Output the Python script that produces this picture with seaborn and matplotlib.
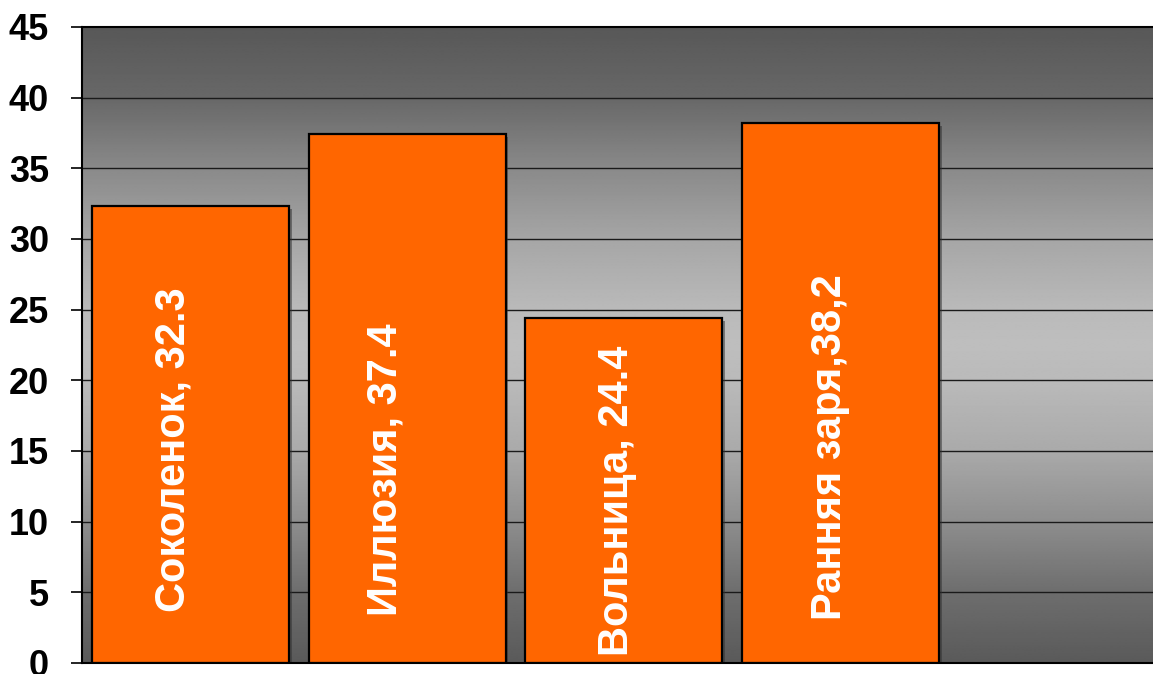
import numpy as np
import matplotlib
matplotlib.use("Agg")
import matplotlib.pyplot as plt
import matplotlib.patheffects as pe
import seaborn as sns

# Yield by variety
varieties = ["Соколенок", "Иллюзия", "Вольница", "Ранняя заря"]
yields = [32.3, 37.4, 24.4, 38.2]
bar_labels = ["Соколенок, 32.3", "Иллюзия, 37.4", "Вольница, 24.4", "Ранняя заря,38,2"]
y_ticks = [0, 5, 10, 15, 20, 25, 30, 35, 40, 45]

# Placement of the rotated labels inside the bars (x shift, y centre)
label_dx = [-0.08, -0.10, -0.03, -0.05]
label_y = [15.1, 13.7, 11.5, 15.3]

# Vertical grey gradient of the plot area: (value, grey level 0-255)
grad_pos = [0, 5, 10, 15, 20, 22.5, 25, 30, 35, 40, 45]
grad_lvl = [90, 110, 142, 170, 186, 190, 186, 166, 138, 104, 88]

sns.set_theme(style="white")
plt.rcParams["font.family"] = ["Liberation Sans", "DejaVu Sans"]

fig = plt.figure(figsize=(11.53, 6.74), dpi=100)
ax = fig.add_axes([82.2 / 1153, 11 / 674, 1083.4 / 1153, 636 / 674])

# background gradient
yy = np.linspace(0, 45, 400)
lv = np.interp(yy, grad_pos, grad_lvl) / 255.0
img = np.repeat(lv[:, None], 2, axis=1)
ax.imshow(img, cmap="gray", vmin=0, vmax=1, extent=(-0.5, 4.5, 0, 45),
          origin="lower", aspect="auto", zorder=0, interpolation="bilinear")

# horizontal grid lines
for t in y_ticks[1:-1]:
    ax.axhline(t, color="#1a1a1a", lw=1.0, zorder=1)

sns.barplot(x=varieties, y=yields, color="#FF6600", saturation=1,
            edgecolor="black", linewidth=1.6, width=0.909, ax=ax, zorder=2)
for p in ax.patches:
    p.set_path_effects([pe.SimplePatchShadow(offset=(2, -2), shadow_rgbFace="#303030", alpha=0.5),
                        pe.Normal()])

for i, (txt, dx, ty) in enumerate(zip(bar_labels, label_dx, label_y)):
    ax.text(i + dx, ty, txt, rotation=90, ha="center", va="center",
            color="white", fontsize=30, fontweight="bold", zorder=3)

ax.set_xlim(-0.5, 4.5)
ax.set_ylim(0, 45)
ax.set_xticks([])
ax.set_xlabel("")
ax.set_ylabel("")
ax.set_yticks(y_ticks)
ax.set_yticklabels([str(t) for t in y_ticks], fontweight="bold", fontsize=26, color="black")
ax.tick_params(axis="y", left=True, length=8, width=1.2, color="black", pad=16)

for side in ["left", "top", "bottom"]:
    ax.spines[side].set_visible(True)
    ax.spines[side].set_color("black")
    ax.spines[side].set_linewidth(1.5)
ax.spines["right"].set_visible(False)

fig.savefig("out.png", dpi=100)
